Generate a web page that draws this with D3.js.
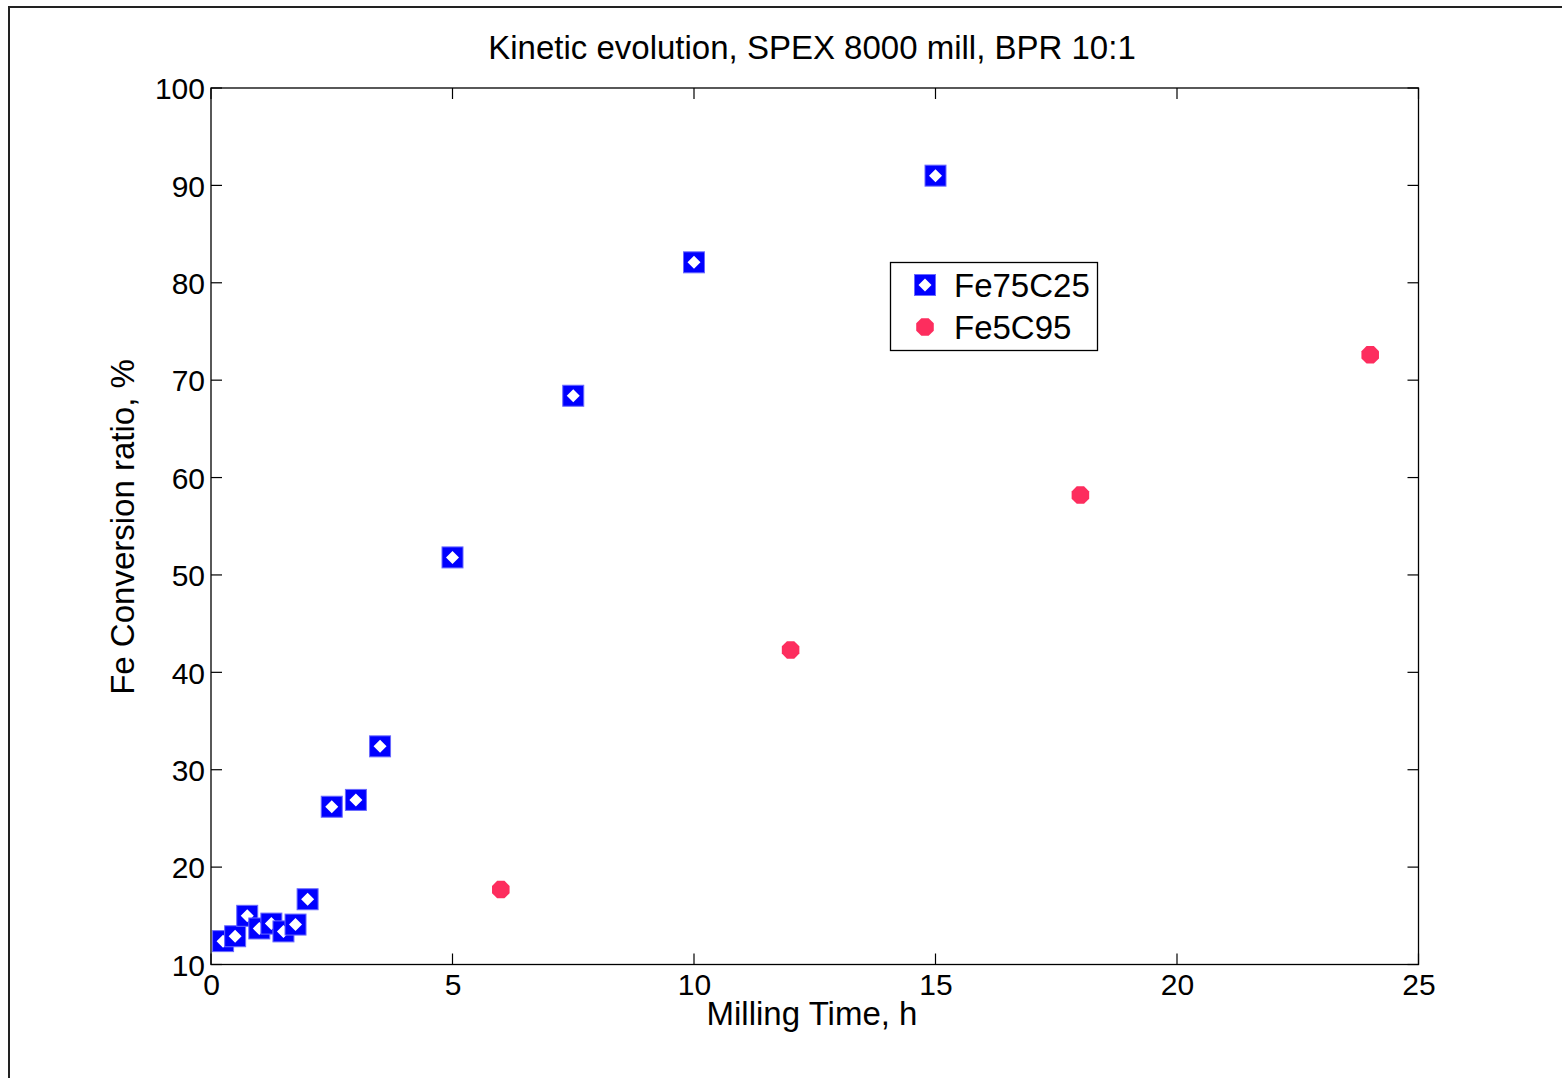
<!DOCTYPE html>
<html><head><meta charset="utf-8">
<script src="https://cdn.jsdelivr.net/npm/d3@7"></script>
<style>body{margin:0;background:#fff}svg{display:block}text{font-family:"Liberation Sans",Arial,sans-serif;fill:#000}</style>
</head><body><div id="chart"></div>
<script>
const titleText = "Kinetic evolution, SPEX 8000 mill, BPR 10:1";
const xLabel = "Milling Time, h";
const yLabel = "Fe Conversion ratio, %";
const seriesNames = ["Fe75C25", "Fe5C95"];
const feC25Time = [0.25, 0.5, 0.75, 1.0, 1.25, 1.5, 1.75, 2.0, 2.5, 3.0, 3.5, 5, 7.5, 10, 15];
const feC25Ratio = [12.4, 12.9, 15.0, 13.7, 14.2, 13.4, 14.1, 16.7, 26.2, 26.9, 32.4, 51.8, 68.4, 82.1, 91.0];
const feC95Time = [6, 12, 18, 24];
const feC95Ratio = [17.7, 42.3, 58.2, 72.6];
const xTicks = [0, 5, 10, 15, 20, 25];
const yTicks = [10, 20, 30, 40, 50, 60, 70, 80, 90, 100];

const W = 1562, H = 1078;
const m = {left: 211, right: 1418.5, top: 88, bottom: 964.5};
const svg = d3.select("#chart").append("svg").attr("width", W).attr("height", H);

// outer figure frame
svg.append("path").attr("d", `M9,${H} V7 H${W}`).attr("fill", "none").attr("stroke", "#222").attr("stroke-width", 2);

const x = d3.scaleLinear().domain([0, 25]).range([m.left, m.right]);
const y = d3.scaleLinear().domain([10, 100]).range([m.bottom, m.top]);

const fs = 30, fsL = 33;
// axes box
svg.append("rect").attr("x", m.left).attr("y", m.top).attr("width", m.right - m.left).attr("height", m.bottom - m.top)
  .attr("fill", "none").attr("stroke", "#000").attr("stroke-width", 1.3);

const tl = 11;
const bottomAxis = d3.axisBottom(x).tickValues(xTicks).tickSize(0).tickPadding(10).tickFormat(d3.format("d"));
const gx = svg.append("g").attr("transform", `translate(0,${m.bottom})`).call(bottomAxis);
gx.select(".domain").remove();
gx.selectAll("text").attr("font-size", fs).attr("font-family", "Liberation Sans, Arial").attr("dy", "0.78em").attr("y", 7);
const leftAxis = d3.axisLeft(y).tickValues(yTicks).tickSize(0).tickPadding(6).tickFormat(d3.format("d"));
const gy = svg.append("g").attr("transform", `translate(${m.left},0)`).call(leftAxis);
gy.select(".domain").remove();
gy.selectAll("text").attr("font-size", fs).attr("font-family", "Liberation Sans, Arial").attr("dy", "0.36em");

// inward ticks on all sides
const tg = svg.append("g").attr("stroke", "#000").attr("stroke-width", 1.2);
xTicks.forEach(v => {
  tg.append("line").attr("x1", x(v)).attr("x2", x(v)).attr("y1", m.bottom).attr("y2", m.bottom - tl);
  tg.append("line").attr("x1", x(v)).attr("x2", x(v)).attr("y1", m.top).attr("y2", m.top + tl);
});
yTicks.forEach(v => {
  tg.append("line").attr("x1", m.left).attr("x2", m.left + tl).attr("y1", y(v)).attr("y2", y(v));
  tg.append("line").attr("x1", m.right).attr("x2", m.right - tl).attr("y1", y(v)).attr("y2", y(v));
});

// title and labels
svg.append("text").attr("x", 812).attr("y", 59).attr("text-anchor", "middle").attr("font-size", fsL).text(titleText);
svg.append("text").attr("x", 812).attr("y", 1025).attr("text-anchor", "middle").attr("font-size", fsL).text(xLabel);
svg.append("text").attr("transform", `translate(134,${527}) rotate(-90)`).attr("text-anchor", "middle").attr("font-size", fsL).text(yLabel);

const blue = "#0000ff", red = "#fd2d5e";
function squareMarker(g, cx, cy) {
  g.append("rect").attr("x", cx - 10.5).attr("y", cy - 10.5).attr("width", 21).attr("height", 21)
    .attr("fill", blue).attr("stroke", "#6a6aff").attr("stroke-width", 1);
  g.append("path").attr("d", `M${cx},${cy - 6.5} L${cx + 6.5},${cy} L${cx},${cy + 6.5} L${cx - 6.5},${cy} Z`).attr("fill", "#fff");
}
function octMarker(g, cx, cy) {
  const r = 9.5;
  const pts = d3.range(8).map(i => {
    const a = Math.PI / 8 + i * Math.PI / 4;
    return [cx + r * Math.cos(a), cy + r * Math.sin(a)];
  });
  g.append("polygon").attr("points", pts.map(p => p.join(",")).join(" ")).attr("fill", red);
}

const gS = svg.append("g");
feC25Time.forEach((t, i) => {
  const gg = gS.append("g");
  squareMarker(gg, x(t), y(feC25Ratio[i]));
});
const gR = svg.append("g");
feC95Time.forEach((t, i) => octMarker(gR, x(t), y(feC95Ratio[i])));

// legend
const lg = svg.append("g");
lg.append("rect").attr("x", 890.5).attr("y", 262.5).attr("width", 207).attr("height", 88).attr("fill", "#fff").attr("stroke", "#000").attr("stroke-width", 1.3);
squareMarker(lg, 925, 285);
octMarker(lg, 925, 327);
lg.append("text").attr("x", 954).attr("y", 285).attr("dy", "0.36em").attr("font-size", fsL).text(seriesNames[0]);
lg.append("text").attr("x", 954).attr("y", 327).attr("dy", "0.36em").attr("font-size", fsL).text(seriesNames[1]);
</script></body></html>
